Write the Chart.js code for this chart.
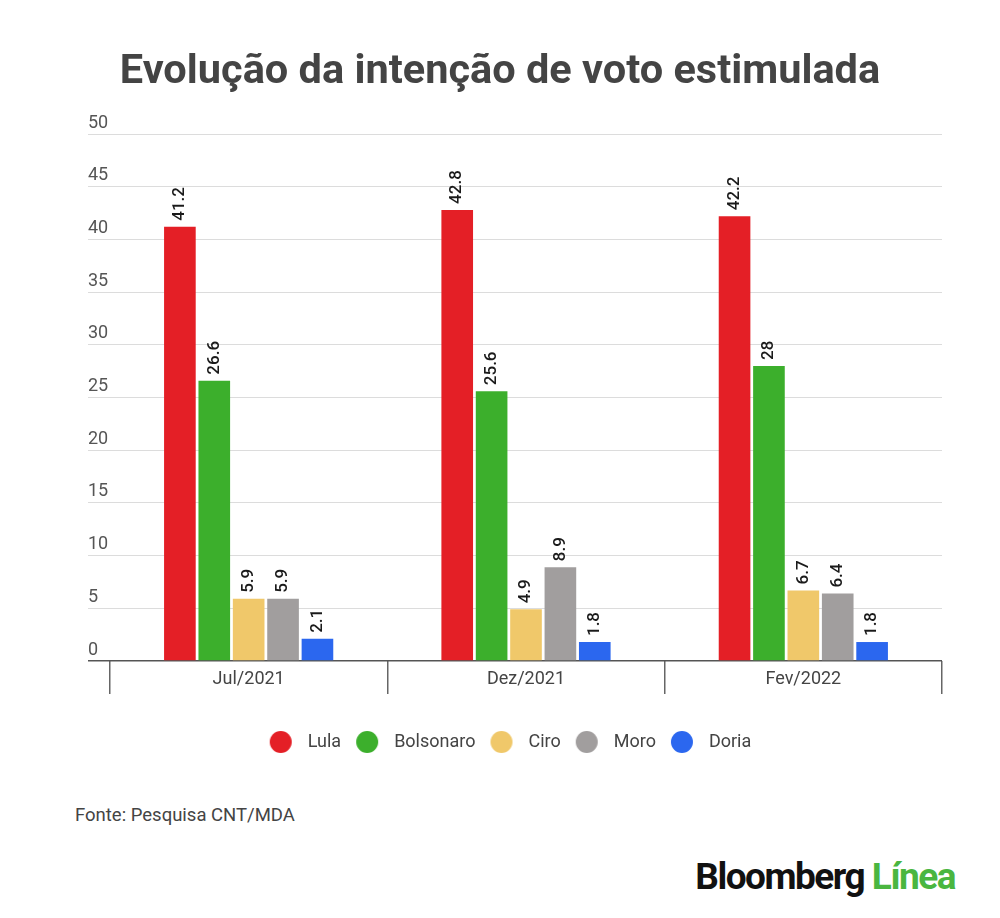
<!DOCTYPE html>
<html lang="pt">
<head>
    <meta charset="UTF-8">
    <title>Evolução da intenção de voto estimulada</title>
    <script src="https://cdn.jsdelivr.net/npm/chart.js"></script>
    <style>
        body { margin: 0; background: #fff; font-family: Roboto, sans-serif; }
        #wrap { position: relative; width: 1000px; height: 918px; }
        #chartBox { position: absolute; left: 0; top: 0; width: 1000px; height: 778px; }
        #title { position: absolute; left: 0; top: 43.5px; width: 1000px; text-align: center; font-size: 41.5px; line-height: 50px; font-weight: bold; color: #444; }
        #fonte { position: absolute; left: 75px; top: 804px; font-size: 18.5px; color: #444; }
        #logo { position: absolute; right: 45px; top: 855px; font-size: 37px; font-weight: bold; letter-spacing: -1.5px; color: #111; }
        #logo span { color: #4ab640; }
    </style>
</head>
<body>
<div id="wrap">
    <div id="chartBox"><canvas id="votoChart"></canvas></div>
    <div id="title">Evolução da intenção de voto estimulada</div>
    <div id="fonte">Fonte: Pesquisa CNT/MDA</div>
    <div id="logo">Bloomberg <span>Línea</span></div>
</div>
<script>
    // Survey waves
    const periods = ['Jul/2021', 'Dez/2021', 'Fev/2022'];

    // Vote intention per candidate (%)
    const lula      = [41.2, 42.8, 42.2];
    const bolsonaro = [26.6, 25.6, 28];
    const ciro      = [5.9, 4.9, 6.7];
    const moro      = [5.9, 8.9, 6.4];
    const doria     = [2.1, 1.8, 1.8];

    const candidates = ['Lula', 'Bolsonaro', 'Ciro', 'Moro', 'Doria'];
    const colors = ['#e41f26', '#3caf2c', '#f0c86a', '#a19e9e', '#2b67ef'];

    const yTicks = [0, 5, 10, 15, 20, 25, 30, 35, 40, 45, 50];

    // little round swatch for the legend
    function dot(color) {
        const c = document.createElement('canvas');
        c.width = 24; c.height = 24;
        const g = c.getContext('2d');
        g.fillStyle = color;
        g.beginPath();
        g.arc(12, 12, 11, 0, Math.PI * 2);
        g.fill();
        return c;
    }

    // rotated value above every bar
    const barValues = {
        id: 'barValues',
        afterDatasetsDraw(chart) {
            const ctx = chart.ctx;
            ctx.save();
            ctx.font = '500 17px Roboto';
            ctx.fillStyle = '#1a1a1a';
            ctx.textAlign = 'left';
            ctx.textBaseline = 'middle';
            chart.data.datasets.forEach((ds, i) => {
                chart.getDatasetMeta(i).data.forEach((bar, j) => {
                    ctx.save();
                    ctx.translate(bar.x, bar.y - 6);
                    ctx.rotate(-Math.PI / 2);
                    ctx.fillText(String(ds.data[j]), 0, 0);
                    ctx.restore();
                });
            });
            ctx.restore();
        }
    };

    const series = [lula, bolsonaro, ciro, moro, doria];
    const datasets = candidates.map((name, i) => ({
        label: name,
        data: series[i],
        backgroundColor: colors[i],
        pointStyle: dot(colors[i]),
        categoryPercentage: 0.62,
        barPercentage: 0.92
    }));

    new Chart(document.getElementById('votoChart'), {
        type: 'bar',
        data: { labels: periods, datasets: datasets },
        plugins: [barValues],
        options: {
            responsive: true,
            maintainAspectRatio: false,
            animation: false,
            layout: { padding: { left: 72, right: 58, top: 134, bottom: 17 } },
            plugins: {
                legend: {
                    position: 'bottom',
                    labels: {
                        usePointStyle: true,
                        pointStyleWidth: 36,
                        padding: 8,
                        color: '#444',
                        font: { family: 'Roboto', size: 18 }
                    }
                },
                tooltip: { enabled: false }
            },
            scales: {
                x: {
                    afterFit(scale) { scale.height = 64; },
                    grid: {
                        display: true,
                        drawOnChartArea: false,
                        drawTicks: true,
                        tickLength: 33,
                        offset: true,
                        color: '#666',
                        lineWidth: 1.5
                    },
                    border: { display: false },
                    ticks: {
                        padding: -25,
                        color: '#444',
                        font: { family: 'Roboto', size: 18 }
                    }
                },
                y: {
                    min: 0,
                    max: 50,
                    afterFit(scale) { scale.width = 38; },
                    afterBuildTicks(scale) { scale.ticks = yTicks.map(v => ({ value: v })); },
                    grid: {
                        drawTicks: true,
                        tickLength: 22,
                        color: c => c.tick && c.tick.value === 0 ? '#555' : '#dcdcdc',
                        tickColor: c => c.tick && c.tick.value === 0 ? '#555' : '#dcdcdc',
                        lineWidth: c => c.tick && c.tick.value === 0 ? 1.5 : 1
                    },
                    border: { display: false },
                    ticks: {
                        mirror: true,
                        padding: -22,
                        labelOffset: -11,
                        color: '#555',
                        font: { family: 'Roboto', size: 18 }
                    }
                }
            }
        }
    });
</script>
</body>
</html>
